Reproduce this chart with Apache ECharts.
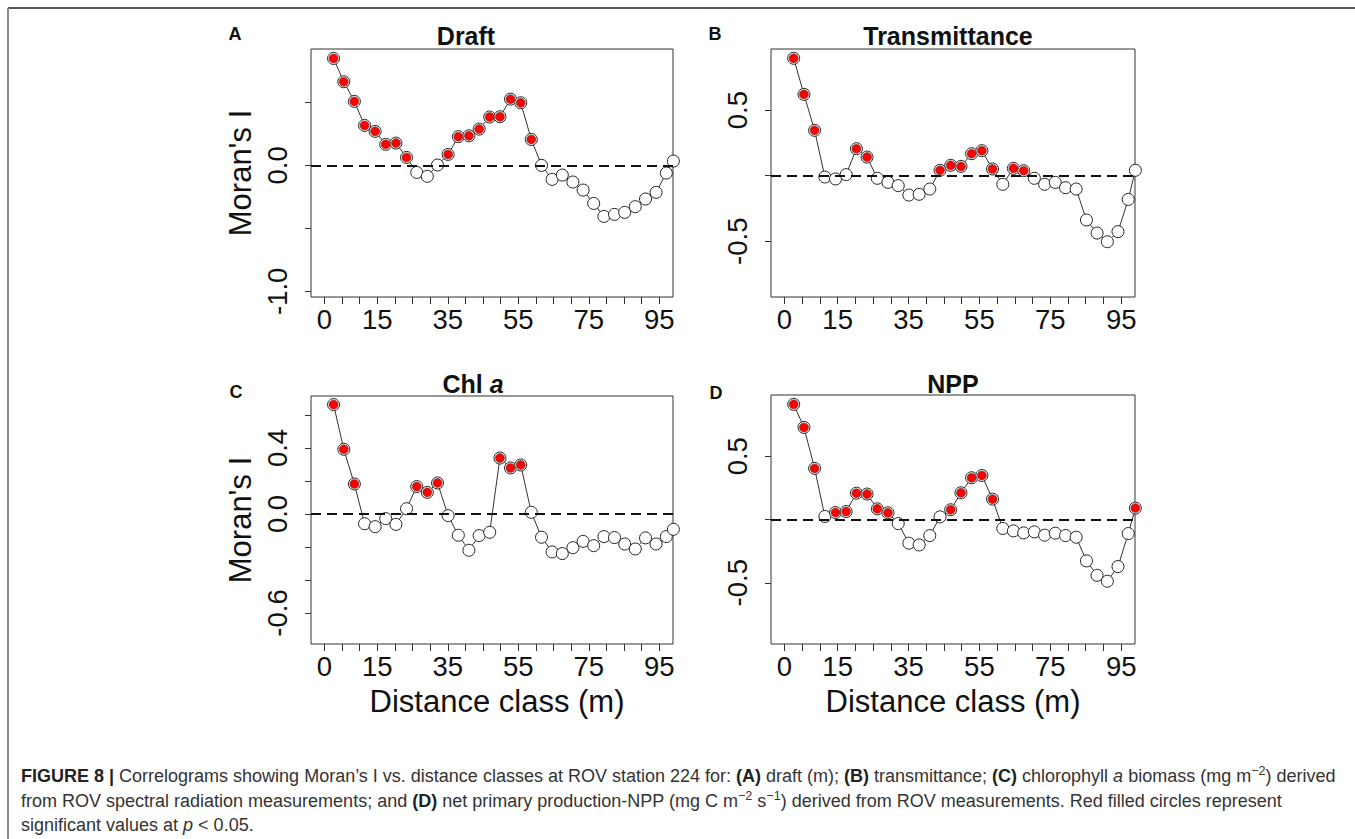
<!DOCTYPE html>
<html>
<head>
<meta charset="utf-8">
<script src="https://cdn.jsdelivr.net/npm/echarts@6/dist/echarts.min.js"></script>
<style>
  html, body { margin: 0; padding: 0; background: #fff; }
  #wrap { position: relative; width: 1355px; height: 839px; overflow: hidden; }
  #chart { position: absolute; left: 0; top: 0; width: 1355px; height: 839px; }
  #cap { position: absolute; left: 21px; top: 764px; font-family: "Liberation Sans", Arial, sans-serif;
         font-size: 18px; line-height: 24.5px; color: #333; white-space: nowrap; }
  #cap b { color: #222; }
  #cap sup { font-size: 70%; line-height: 0; vertical-align: 0.55em; }
</style>
</head>
<body>
<div id="wrap">
  <div id="chart"></div>
  <div id="cap"><b>FIGURE 8 |</b> Correlograms showing Moran’s I vs. distance classes at ROV station 224 for: <b>(A)</b> draft (m); <b>(B)</b> transmittance; <b>(C)</b> chlorophyll <i>a</i> biomass (mg m<sup>−2</sup>) derived<br>from ROV spectral radiation measurements; and <b>(D)</b> net primary production-NPP (mg C m<sup>−2</sup> s<sup>−1</sup>) derived from ROV measurements. Red filled circles represent<br>significant values at <i>p</i> &lt; 0.05.</div>
</div>
<script>
// ---------------- DATA ----------------
const distanceClass = [2.6, 5.5, 8.5, 11.4, 14.4, 17.4, 20.3, 23.3, 26.2, 29.2, 32.1, 35.1, 38.0, 41.0, 43.9, 46.9, 49.8,
  52.8, 55.7, 58.7, 61.6, 64.6, 67.5, 70.5, 73.4, 76.4, 79.3, 82.3, 85.2, 88.2, 91.1, 94.1, 97.0, 99.0];

const draftMoranI = [0.849, 0.664, 0.508, 0.317, 0.270, 0.167, 0.177, 0.063, -0.056, -0.087, 0.003, 0.087, 0.228, 0.235,
  0.288, 0.384, 0.386, 0.526, 0.497, 0.206, 0.000, -0.111, -0.077, -0.132, -0.196, -0.302, -0.405, -0.389, -0.373, -0.328,
  -0.267, -0.214, -0.061, 0.034];
const draftSignificant = [1,1,1,1,1,1,1,1,0,0,0,1,1,1,1,1,1,1,1,1,0,0,0,0,0,0,0,0,0,0,0,0,0,0];

const transmittanceMoranI = [0.896, 0.621, 0.346, -0.010, -0.025, 0.008, 0.206, 0.142, -0.020, -0.051, -0.076, -0.148,
  -0.142, -0.102, 0.041, 0.079, 0.071, 0.168, 0.191, 0.051, -0.066, 0.056, 0.038, -0.020, -0.066, -0.051, -0.092, -0.102,
  -0.338, -0.438, -0.504, -0.427, -0.181, 0.041];
const transmittanceSignificant = [1,1,1,0,0,0,1,1,0,0,0,0,0,0,1,1,1,1,1,1,0,1,1,0,0,0,0,0,0,0,0,0,0,0];

const chlMoranI = [0.663, 0.392, 0.182, -0.059, -0.077, -0.028, -0.063, 0.032, 0.166, 0.131, 0.188, -0.010, -0.129,
  -0.220, -0.131, -0.111, 0.339, 0.279, 0.297, 0.010, -0.141, -0.230, -0.240, -0.204, -0.166, -0.192, -0.137, -0.143,
  -0.182, -0.212, -0.145, -0.182, -0.137, -0.093];
const chlSignificant = [1,1,1,0,0,0,0,0,1,1,1,0,0,0,0,0,1,1,1,0,0,0,0,0,0,0,0,0,0,0,0,0,0,0];

const nppMoranI = [0.910, 0.728, 0.404, 0.024, 0.055, 0.063, 0.208, 0.201, 0.084, 0.053, -0.032, -0.187, -0.201, -0.127,
  0.021, 0.077, 0.211, 0.330, 0.348, 0.161, -0.071, -0.090, -0.106, -0.098, -0.124, -0.108, -0.127, -0.140, -0.327,
  -0.441, -0.488, -0.372, -0.111, 0.090];
const nppSignificant = [1,1,1,0,1,1,1,1,1,1,0,0,0,0,0,1,1,1,1,1,0,0,0,0,0,0,0,0,0,0,0,0,0,1];

const xTicks = [0, 5, 10, 15, 20, 25, 30, 35, 40, 45, 50, 55, 60, 65, 70, 75, 80, 85, 90, 95];
const xTickLabels = [0, 15, 35, 55, 75, 95];

const panelLetters = ['A', 'B', 'C', 'D'];
const panelTitles = ['Draft', 'Transmittance', 'Chl a', 'NPP'];
const yTicksA = [-1, -0.5, 0, 0.5];   const yLabelsA = [-1, 0];
const yTicksB = [-0.5, 0, 0.5];       const yLabelsB = [-0.5, 0.5];
const yTicksC = [-0.6, -0.4, -0.2, 0, 0.2, 0.4, 0.6]; const yLabelsC = [-0.6, 0, 0.4];
const yTicksD = [-0.5, 0, 0.5];       const yLabelsD = [-0.5, 0.5];
const yAxisTitle = "Moran's I";
const xAxisTitle = 'Distance class (m)';

// ---------------- LAYOUT ----------------
const FONT = '"Liberation Sans", Arial, Helvetica, sans-serif';
const panels = [
  { grid: { left: 311, top: 49, width: 362, height: 248 }, y: [-1.045, 0.924], ticks: yTicksA, labels: yLabelsA, vals: draftMoranI, sig: draftSignificant },
  { grid: { left: 771, top: 49, width: 364, height: 248 }, y: [-0.926, 0.967], ticks: yTicksB, labels: yLabelsB, vals: transmittanceMoranI, sig: transmittanceSignificant },
  { grid: { left: 311, top: 396, width: 362, height: 248 }, y: [-0.788, 0.715], ticks: yTicksC, labels: yLabelsC, vals: chlMoranI, sig: chlSignificant },
  { grid: { left: 771, top: 395, width: 364, height: 249 }, y: [-0.984, 0.984], ticks: yTicksD, labels: yLabelsD, vals: nppMoranI, sig: nppSignificant }
];

const grids = [], xAxes = [], yAxes = [], series = [];
panels.forEach((p, k) => {
  grids.push(Object.assign({ show: true, borderColor: '#333', borderWidth: 1, backgroundColor: 'transparent' }, p.grid));
  xAxes.push({
    type: 'value', gridIndex: k, min: -3.8, max: 98.9,
    axisLine: { show: false, onZero: false },
    splitLine: { show: false },
    axisTick: { show: true, length: 7, lineStyle: { color: '#333', width: 1 }, customValues: xTicks },
    axisLabel: { show: true, customValues: xTickLabels, fontFamily: FONT, fontSize: 27.5, color: '#111', margin: 8 }
  });
  yAxes.push({
    type: 'value', gridIndex: k, min: p.y[0], max: p.y[1],
    axisLine: { show: false, onZero: false },
    splitLine: { show: false },
    axisTick: { show: true, length: 6, lineStyle: { color: '#333', width: 1 }, customValues: p.ticks },
    axisLabel: { show: true, customValues: p.labels, rotate: 90, fontFamily: FONT, fontSize: 27.5, color: '#111', margin: 20,
      formatter: v => Number(v).toFixed(1) }
  });
  // zero reference line (dashed)
  series.push({
    type: 'line', xAxisIndex: k, yAxisIndex: k, data: [], z: 1, silent: true,
    markLine: { silent: true, symbol: 'none', animation: false, label: { show: false },
      lineStyle: { type: [10, 6], color: '#111', width: 2 }, data: [{ yAxis: 0 }] }
  });
  // all points: open circles joined by line
  series.push({
    type: 'line', xAxisIndex: k, yAxisIndex: k, z: 3, clip: false, animation: false,
    data: distanceClass.map((x, i) => [x, p.vals[i]]),
    symbol: 'circle', symbolSize: 12, showAllSymbol: true,
    lineStyle: { color: '#333', width: 1 },
    itemStyle: { color: '#fff', borderColor: '#222', borderWidth: 1 }
  });
  // significant points: red filled
  series.push({
    type: 'scatter', xAxisIndex: k, yAxisIndex: k, z: 4, clip: false, animation: false,
    data: distanceClass.map((x, i) => [x, p.vals[i]]).filter((d, i) => p.sig[i] === 1),
    symbol: 'circle', symbolSize: 9,
    itemStyle: { color: '#ff0000', borderColor: '#444', borderWidth: 0.6, opacity: 1 }
  });
});

const txt = (x, y, text, font, extra) => Object.assign({
  type: 'text', x: x, y: y, silent: true,
  style: { text: text, font: font, fill: '#111', textAlign: 'center', textVerticalAlign: 'middle' }
}, extra || {});

const graphic = [
  // figure frame (top and left rules)
  { type: 'line', silent: true, shape: { x1: 8, y1: 8, x2: 1355, y2: 8 }, style: { stroke: '#555', lineWidth: 2 } },
  { type: 'line', silent: true, shape: { x1: 8, y1: 8, x2: 8, y2: 839 }, style: { stroke: '#8a8a8a', lineWidth: 2 } },
  // panel letters
  txt(235, 34, panelLetters[0], 'bold 18px ' + FONT),
  txt(715, 34, panelLetters[1], 'bold 18px ' + FONT),
  txt(236, 392, panelLetters[2], 'bold 18px ' + FONT),
  txt(716, 393, panelLetters[3], 'bold 18px ' + FONT),
  // titles
  txt(466, 36, panelTitles[0], 'bold 25px ' + FONT),
  txt(948, 36, panelTitles[1], 'bold 25px ' + FONT),
  { type: 'text', x: 473, y: 384, silent: true,
    style: { text: '{n|Chl }{i|a}', textAlign: 'center', textVerticalAlign: 'middle',
      rich: { n: { font: 'bold 25px ' + FONT, fill: '#111' }, i: { font: 'italic bold 25px ' + FONT, fill: '#111' } } } },
  txt(953, 384, panelTitles[3], 'bold 25px ' + FONT),
  // y-axis titles
  txt(240, 173, yAxisTitle, '31px ' + FONT, { rotation: Math.PI / 2 }),
  txt(240, 520, yAxisTitle, '31px ' + FONT, { rotation: Math.PI / 2 }),
  // x-axis titles
  txt(497, 701, xAxisTitle, '31px ' + FONT),
  txt(953, 701, xAxisTitle, '31px ' + FONT)
];

const chart = echarts.init(document.getElementById('chart'), null, { renderer: 'svg', width: 1355, height: 839 });
chart.setOption({
  animation: false,
  backgroundColor: '#fff',
  grid: grids, xAxis: xAxes, yAxis: yAxes, series: series, graphic: graphic
});
</script>
</body>
</html>
